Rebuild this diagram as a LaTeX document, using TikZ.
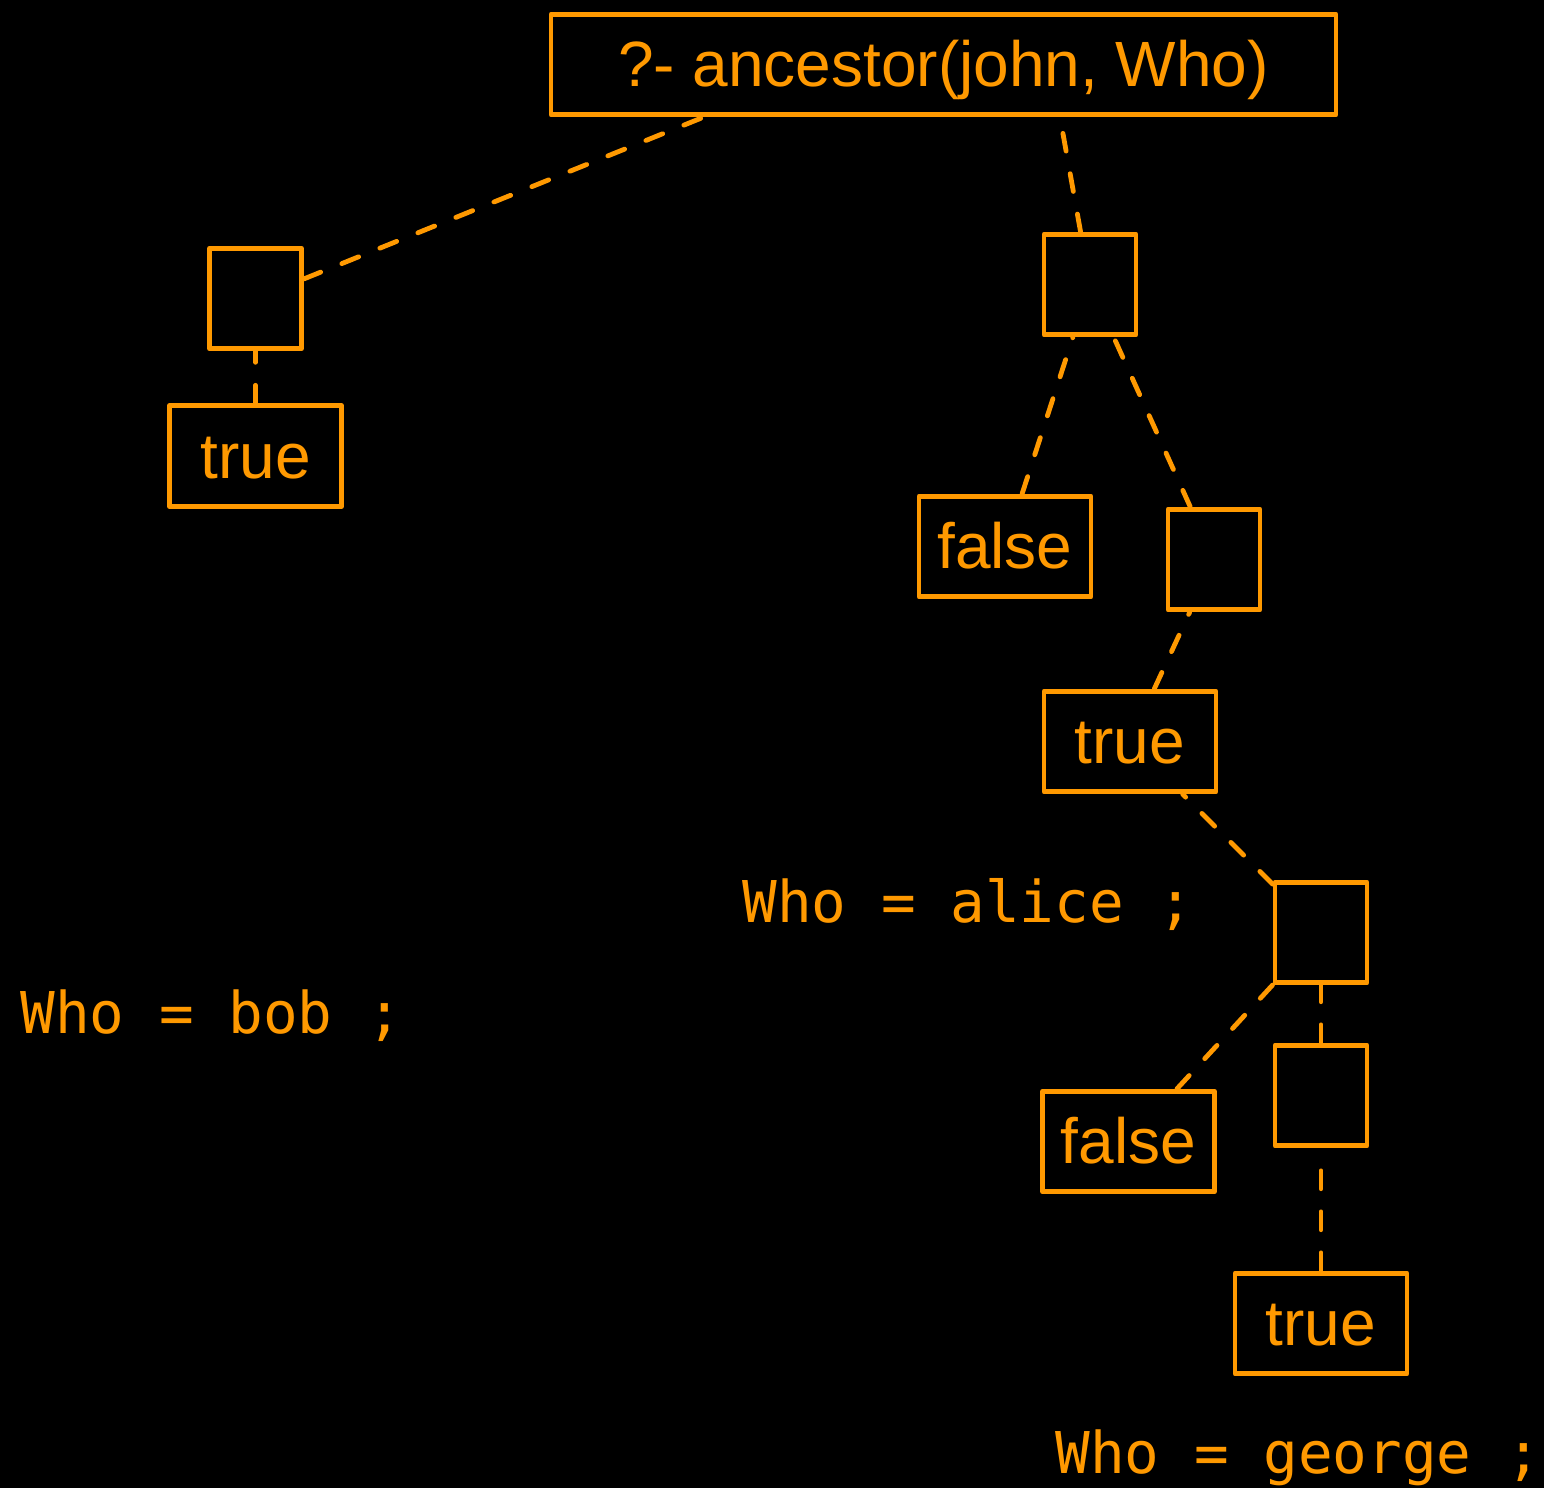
\documentclass[tikz,border=0pt]{standalone}
\usepackage{fontspec}
\setmainfont{Liberation Sans}
\setmonofont{DejaVu Sans Mono}
\definecolor{prologorange}{RGB}{255,153,0}

\tikzset{
    goal/.style = {draw=prologorange, line width=2.4pt, line join=round, minimum width=46pt, minimum height=50.3pt,
        inner sep=0pt, text=prologorange, font=\fontsize{32}{38}\selectfont, text height=22.4pt, text depth=0pt},
    leaf/.style = {goal, minimum width=86pt},
    link/.style = {draw=prologorange, line width=2.4pt, line cap=round, dash pattern=on 9pt off 11.5pt},
    answer/.style = {anchor=base west, inner sep=0pt, text=prologorange, font=\ttfamily\fontsize{28.8}{34}\selectfont}
}

\begin{document}
\begin{tikzpicture}[x=0.5pt, y=-0.5pt]
    \fill[black] (0,0) rectangle (1544,1488);
    \useasboundingbox (0,0) rectangle (1544,1488);

    \node[goal, minimum width=392.5pt] (root) at (943.5,64.5) {?- ancestor(john, Who)};
    \coordinate (rootL) at (704,117);
    \coordinate (rootR) at (1060,117);

    \node[goal] (a) at (255.5,298.5) {};
    \node[leaf] (atrue) at (255.5,456) {true};

    \node[goal] (b) at (1090,284.5) {};
    \node[leaf] (bfalse) at (1005,546.5) {false};
    \node[goal] (c) at (1214,559.5) {};
    \node[leaf] (ctrue) at (1130,741.5) {true};
    \node[goal] (d) at (1321,932.5) {};
    \node[leaf] (dfalse) at (1128.5,1141.5) {false};
    \node[goal] (e) at (1321,1095.5) {};
    \node[leaf] (etrue) at (1321,1323.5) {true};

    \draw[link] (a) -- (rootL);
    \draw[link] (atrue) -- (a);
    \draw[link] (b) -- (rootR);
    \draw[link] (bfalse) -- (b);
    \draw[link] (c) -- (b);
    \draw[link] (ctrue) -- (c);
    \draw[link] (d) -- (ctrue);
    \draw[link] (dfalse) -- (d);
    \draw[link] (e) -- (d);
    \draw[link] (etrue) -- (e);

    \node[answer] (bob) at (20,1033) {Who = bob ;};
    \node[answer] (alice) at (742,922) {Who = alice ;};
    \node[answer] (george) at (1055,1473) {Who = george ;};
\end{tikzpicture}
\end{document}
